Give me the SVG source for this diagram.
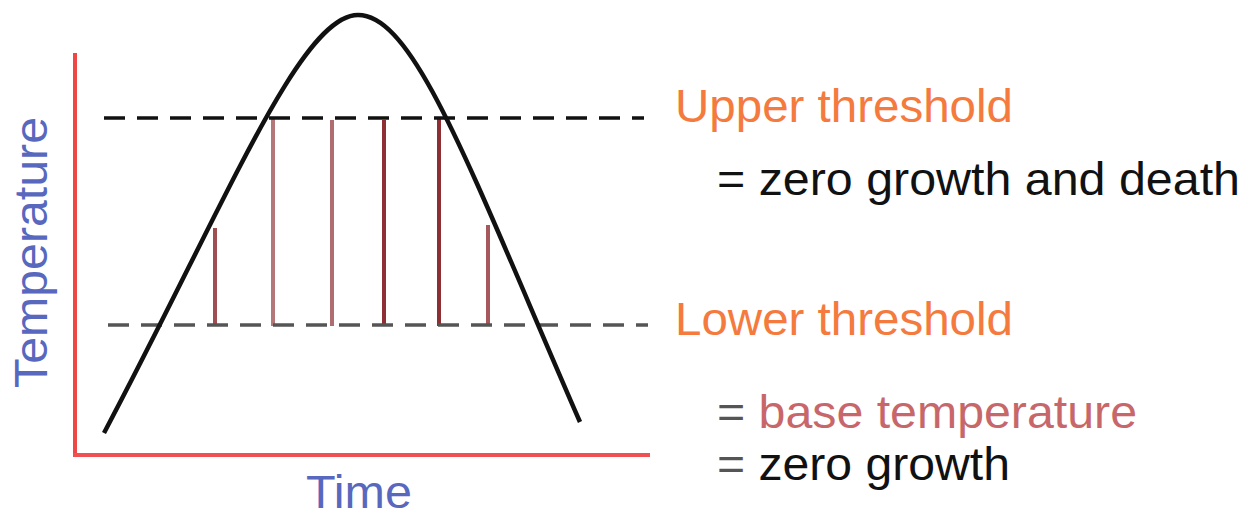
<svg xmlns="http://www.w3.org/2000/svg" width="1256" height="519" viewBox="0 0 1256 519">
  <style>
    .lbl { font-family: "Liberation Sans", Arial, sans-serif; font-size: 47px; }
    .orange { fill: #f47a3e; }
    .black { fill: #111111; }
    .pink { fill: #c8676a; }
    .blue { fill: #5868be; }
    .bar { stroke: #8e2f33; stroke-width: 4; fill: none; }
    .dash { stroke-width: 3.5; stroke-dasharray: 21 12; fill: none; }
  </style>
  <rect width="1256" height="519" fill="#ffffff"/>
  <g id="axes">
    <line x1="75" y1="53" x2="75" y2="456" stroke="#f04646" stroke-width="4"/>
    <line x1="73" y1="455" x2="650" y2="455" stroke="#f05050" stroke-width="4"/>
  </g>
  <g id="bars">
    <line class="bar" x1="215" y1="228" x2="215" y2="326" opacity="0.85"/>
    <line class="bar" x1="273" y1="118" x2="273" y2="326" opacity="0.65"/>
    <line class="bar" x1="332" y1="120" x2="332" y2="326" opacity="0.7"/>
    <line class="bar" x1="384" y1="120" x2="384" y2="326"/>
    <line class="bar" x1="439" y1="118" x2="439" y2="326"/>
    <line class="bar" x1="488" y1="225" x2="488" y2="326" opacity="0.8"/>
  </g>
  <g id="thresholds">
    <line class="dash" x1="104" y1="118" x2="644" y2="118" stroke="#111111"/>
    <line class="dash" x1="108" y1="325" x2="648" y2="325" stroke="#555555" stroke-width="4"/>
  </g>
  <g id="curve">
    <path d="M104,433 C 225,205 300,15 358,15 C 415,15 470,170 580,422" fill="none" stroke="#111111" stroke-width="4.5"/>
  </g>
  <g id="labels">
    <text class="lbl orange" x="675" y="122" textLength="338" lengthAdjust="spacingAndGlyphs">Upper threshold</text>
    <text class="lbl black" x="717" y="195" textLength="523" lengthAdjust="spacingAndGlyphs">= zero growth and death</text>
    <text class="lbl orange" x="675" y="335" textLength="338" lengthAdjust="spacingAndGlyphs">Lower threshold</text>
    <text class="lbl pink" x="717" y="428" textLength="420" lengthAdjust="spacingAndGlyphs"><tspan fill="#555555">=</tspan> base temperature</text>
    <text class="lbl black" x="717" y="480" textLength="293" lengthAdjust="spacingAndGlyphs"><tspan fill="#555555">=</tspan> zero growth</text>
    <text class="lbl blue" x="306" y="508" textLength="106" lengthAdjust="spacingAndGlyphs">Time</text>
    <text class="lbl blue" transform="translate(47,388) rotate(-90)" x="0" y="0" textLength="271" lengthAdjust="spacingAndGlyphs">Temperature</text>
  </g>
</svg>
